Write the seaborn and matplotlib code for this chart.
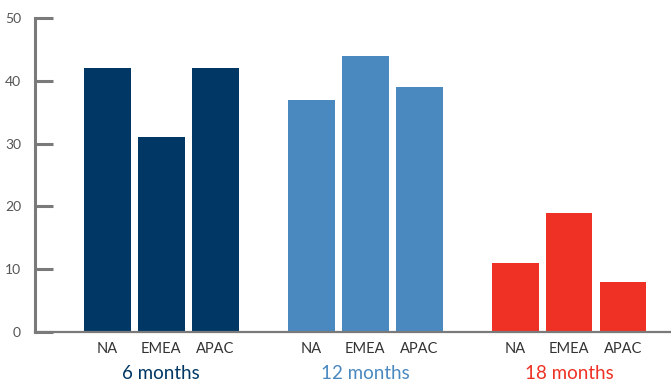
import matplotlib
matplotlib.use("Agg")
import matplotlib.pyplot as plt
import matplotlib.transforms as mtransforms
import seaborn as sns
import pandas as pd

# Survey results by time horizon and region
groups = ["6 months", "12 months", "18 months"]
regions = ["NA", "EMEA", "APAC"]
values_6m = [42, 31, 42]
values_12m = [37, 44, 39]
values_18m = [11, 19, 8]
group_colors = ["#003764", "#4a89c0", "#ee3124"]

sns.set_theme(style="white")
plt.rcParams["font.family"] = ["Lato", "DejaVu Sans"]

rows = []
for g, vals in zip(groups, [values_6m, values_12m, values_18m]):
    for r, v in zip(regions, vals):
        rows.append({"group": g, "region": r, "value": v})
df = pd.DataFrame(rows)

fig = plt.figure(figsize=(6.71, 3.82), dpi=100)
ax = fig.add_axes([35 / 671, 1 - 332 / 382, 1 - 35 / 671, (332 - 18) / 382])

sns.barplot(data=df, x="group", y="value", hue="region", order=groups,
            hue_order=regions, width=0.794, gap=0.13, legend=False,
            saturation=1, ax=ax, errorbar=None)

# colour bars by group (patches are ordered by hue, then by group)
for i, patch in enumerate(ax.patches[:9]):
    gi = i % 3
    patch.set_facecolor(group_colors[gi])
    patch.set_edgecolor("none")

ax.set_xlim(-0.618, 2.5)
ax.set_ylim(0, 50)
ax.set_yticks(range(0, 51, 10))
ax.set_xlabel("")
ax.set_ylabel("")

for s in ["top", "right"]:
    ax.spines[s].set_visible(False)
ax.spines["left"].set_color("#7a7a7a")
ax.spines["left"].set_linewidth(2.2)
ax.spines["bottom"].set_color("#7a7a7a")
ax.spines["bottom"].set_linewidth(1.6)

ax.tick_params(axis="y", direction="in", length=13, width=2.2, color="#7a7a7a",
               labelsize=10, labelcolor="#555555", pad=10, left=True)

# group labels as x tick labels, coloured to match their bars
ax.set_xticks(range(3))
ax.set_xticklabels(groups)
ax.tick_params(axis="x", length=0, pad=23.5, labelsize=13.5)
for lbl, c in zip(ax.get_xticklabels(), group_colors):
    lbl.set_color(c)

# region labels under each bar
trans = mtransforms.blended_transform_factory(ax.transData, fig.transFigure)
for i, patch in enumerate(ax.patches[:9]):
    ri = i // 3
    cx = patch.get_x() + patch.get_width() / 2
    ax.text(cx, 1 - 349 / 382, regions[ri], transform=trans, ha="center",
            va="center", fontsize=10.5, color="#333333")

fig.savefig("out.png", dpi=100)
